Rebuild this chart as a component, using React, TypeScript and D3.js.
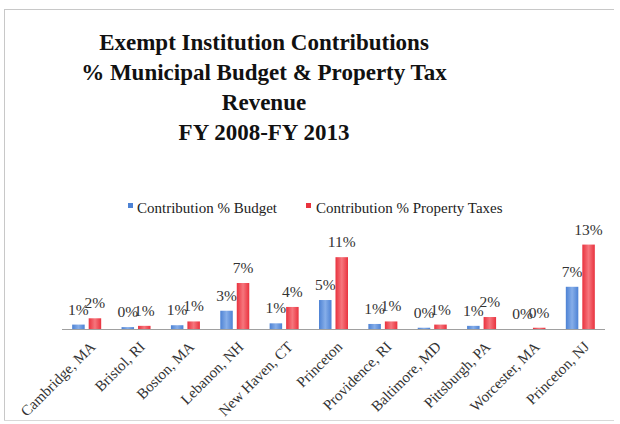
import React from "react";
import * as d3 from "d3";

const categories = [
  "Cambridge, MA", "Bristol, RI", "Boston, MA", "Lebanon, NH", "New Haven, CT",
  "Princeton", "Providence, RI", "Baltimore, MD", "Pittsburgh, PA", "Worcester, MA", "Princeton, NJ",
];
const budgetPct = [0.7, 0.3, 0.6, 2.9, 0.9, 4.6, 0.8, 0.2, 0.5, 0.0, 6.7];
const taxPct = [1.7, 0.5, 1.2, 7.3, 3.5, 11.4, 1.2, 0.7, 1.9, 0.2, 13.4];
const seriesNames = ["Contribution % Budget", "Contribution % Property Taxes"];
const titleLines = [
  "Exempt Institution Contributions",
  "% Municipal Budget & Property Tax",
  "Revenue",
  "FY 2008-FY 2013",
];

const W = 620, H = 424;
const SERIF = "'Liberation Serif', 'DejaVu Serif', serif";

export default function App() {
  const x = d3.scaleBand<string>().domain(categories).range([62, 605]).paddingInner(0).paddingOuter(0);
  const y = d3.scaleLinear().domain([0, 14]).range([329, 329 - 14 * 6.3]);
  const barW = 12.5, gap = 4;
  const series = [budgetPct, taxPct];
  const colorsId = ["gBlue", "gRed"];
  return (
    <svg width={W} height={H} style={{ position: "absolute", left: 0, top: 0, background: "#fff" }}>
      <defs>
        <linearGradient id="gBlue" x1="0" x2="1" y1="0" y2="0">
          <stop offset="0" stopColor="#4d82d4" />
          <stop offset="0.5" stopColor="#86aee9" />
          <stop offset="1" stopColor="#4d82d4" />
        </linearGradient>
        <linearGradient id="gRed" x1="0" x2="1" y1="0" y2="0">
          <stop offset="0" stopColor="#e9323e" />
          <stop offset="0.5" stopColor="#f6767d" />
          <stop offset="1" stopColor="#e9323e" />
        </linearGradient>
      </defs>
      <rect x={0} y={0} width={W} height={H} fill="#fff" />
      {/* frame */}
      <line x1={4} x2={614} y1={9.5} y2={9.5} stroke="#c8c8c8" strokeWidth={1} />
      <line x1={4.5} x2={4.5} y1={9.5} y2={420} stroke="#c8c8c8" strokeWidth={1} />
      <line x1={4} x2={614} y1={420.5} y2={420.5} stroke="#d8d8d8" strokeWidth={1} />
      {/* title */}
      <g fontFamily={SERIF} fontWeight="bold" fontSize={23} fill="#111" textAnchor="middle">
        {titleLines.map((t, i) => (
          <text key={i} x={264} y={50 + i * 30}>{t}</text>
        ))}
      </g>
      {/* legend */}
      <g fontFamily={SERIF} fontSize={15} fill="#222">
        <rect x={128} y={203} width={5} height={5} fill="#4d82d4" />
        <text x={137} y={213}>{seriesNames[0]}</text>
        <rect x={306} y={203} width={5} height={5} fill="#e9323e" />
        <text x={316} y={213}>{seriesNames[1]}</text>
      </g>
      {/* bars */}
      {categories.map((c, i) => {
        const cx = (x(c) as number) + x.bandwidth() / 2;
        return (
          <g key={c}>
            {series.map((s, k) => {
              const bx = k === 0 ? cx - gap / 2 - barW : cx + gap / 2;
              const top = y(s[i]);
              return (
                <g key={k}>
                  <rect x={bx} y={top} width={barW} height={y(0) - top} fill={`url(#${colorsId[k]})`} />
                  <text x={bx + barW / 2} y={top - 10} textAnchor="middle" fontFamily={SERIF} fontSize={15.5} fill="#333">
                    {d3.format(".0f")(s[i]) + "%"}
                  </text>
                </g>
              );
            })}
          </g>
        );
      })}
      {/* axis line */}
      <line x1={62} x2={605} y1={329.5} y2={329.5} stroke="#a0a0a0" strokeWidth={1} />
      {/* category labels */}
      {categories.map((c) => {
        const cx = (x(c) as number) + x.bandwidth() / 2;
        return (
          <text key={c} transform={`translate(${cx + 6},${344}) rotate(-45)`} textAnchor="end"
            fontFamily={SERIF} fontSize={15} fill="#333" dy="0.35em">
            {c}
          </text>
        );
      })}
    </svg>
  );
}
